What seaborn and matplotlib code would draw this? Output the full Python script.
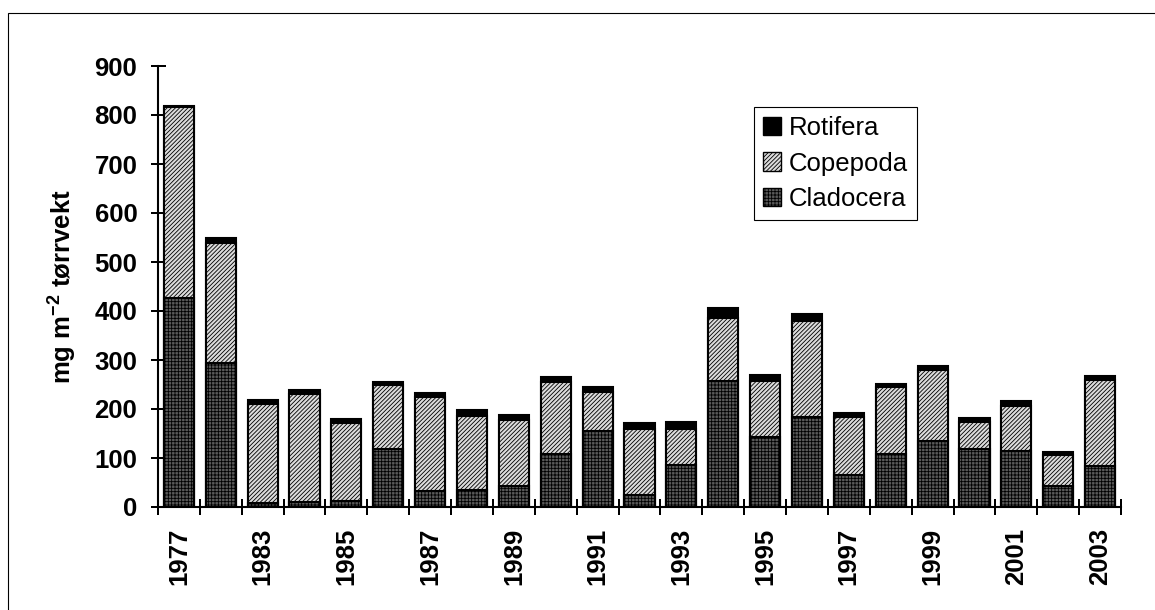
import numpy as np
import pandas as pd
import matplotlib
matplotlib.use("Agg")
import matplotlib.pyplot as plt
import seaborn as sns
from matplotlib.patches import Patch, Rectangle

years = ["1977", "1978", "1983", "1984", "1985", "1986", "1987", "1988", "1989",
         "1990", "1991", "1992", "1993", "1994", "1995", "1996", "1997", "1998",
         "1999", "2000", "2001", "2002", "2003"]
cladocera = [427, 293, 8, 10, 13, 118, 33, 35, 43, 108, 156, 24, 86, 257, 143,
             184, 66, 109, 135, 119, 115, 42, 84]
copepoda = [389, 246, 202, 220, 158, 131, 192, 151, 135, 147, 78, 135, 74, 129,
            115, 196, 117, 136, 144, 54, 92, 64, 175]
rotifera = [2, 11, 8, 8, 9, 7, 8, 11, 10, 10, 10, 13, 14, 21, 12, 13, 8, 7, 9,
            8, 9, 7, 9]
tick_labels = ["1977", "1983", "1985", "1987", "1989", "1991", "1993", "1995",
               "1997", "1999", "2001", "2003"]
y_ticks = [0, 100, 200, 300, 400, 500, 600, 700, 800, 900]

sns.set_theme(style="white", rc={"axes.edgecolor": "black", "text.color": "black",
                                 "xtick.color": "black", "ytick.color": "black",
                                 "axes.labelcolor": "black"})
plt.rcParams["font.family"] = ["Liberation Sans", "DejaVu Sans"]
plt.rcParams["hatch.linewidth"] = 0.6
plt.rcParams["mathtext.fontset"] = "custom"
plt.rcParams["mathtext.rm"] = "Liberation Sans:bold"
plt.rcParams["mathtext.bf"] = "Liberation Sans:bold"
plt.rcParams["mathtext.it"] = "Liberation Sans:bold"

df = pd.DataFrame({"year": years, "clad": cladocera, "cop": copepoda, "rot": rotifera})
df["cop_top"] = df["clad"] + df["cop"]
df["total"] = df["cop_top"] + df["rot"]

W, H = 1155, 610
fig = plt.figure(figsize=(W / 100, H / 100), dpi=100)
ax = fig.add_axes([158 / W, 1 - 507 / H, 963 / W, 441 / H])

COP_FC = "#dcdcdc"
CLAD_FC = "#5a5a5a"
COP_HATCH = "////////"
CLAD_HATCH = "+++++"
common = dict(x="year", order=years, saturation=1, edgecolor="black",
              linewidth=1.5, width=0.72, errorbar=None, ax=ax)
sns.barplot(data=df, y="total", color="black", **common)
sns.barplot(data=df, y="cop_top", color=COP_FC, hatch=COP_HATCH, **common)
sns.barplot(data=df, y="clad", color=CLAD_FC, hatch=CLAD_HATCH, **common)

ax.set_xlim(-0.5, len(years) - 0.5)
ax.set_ylim(0, 900)
ax.set_yticks(y_ticks)
for s in ["top", "right"]:
    ax.spines[s].set_visible(False)
for s in ["left", "bottom"]:
    ax.spines[s].set_linewidth(1.5)
    ax.spines[s].set_color("black")

ax.tick_params(axis="y", which="major", left=True, direction="inout", length=10.8,
               width=1.44, pad=9.5, labelsize=18.5)
for lbl in ax.get_yticklabels():
    lbl.set_fontweight("bold")

ax.set_xticks(range(0, len(years), 2))
ax.set_xticklabels(tick_labels, rotation=90, fontweight="bold", fontsize=18.5)
ax.set_xticks(np.arange(-0.5, len(years), 1), minor=True)
ax.tick_params(axis="x", which="major", bottom=True, length=0, pad=15)
ax.tick_params(axis="x", which="minor", bottom=True, direction="inout", length=11.5,
               width=1.44)

ax.set_xlabel("")
ax.set_ylabel(r"mg m$^{\mathbf{-2}}$ tørrvekt", fontsize=18.5, fontweight="bold")
ax.yaxis.set_label_coords(-0.082, 0.5)

handles = [
    Patch(facecolor="black", edgecolor="black", label="Rotifera"),
    Patch(facecolor=COP_FC, edgecolor="black", hatch=COP_HATCH, label="Copepoda"),
    Patch(facecolor=CLAD_FC, edgecolor="black", hatch=CLAD_HATCH, label="Cladocera"),
]
leg = ax.legend(handles=handles, loc="upper left",
                bbox_to_anchor=((754 - 158) / 963, (507 - 107) / 441),
                borderaxespad=0, frameon=True, fancybox=False, shadow=False,
                edgecolor="black", framealpha=1, fontsize=18.5,
                handlelength=0.72, handleheight=0.72, handletextpad=0.3,
                borderpad=0.35, labelspacing=0.45)
leg.get_frame().set_linewidth(0.8)

fig.add_artist(Rectangle((8 / W, -0.5), 2.0, 0.5 + (1 - 13 / H),
                         transform=fig.transFigure, fill=False,
                         edgecolor="black", linewidth=0.8))

fig.savefig("out.png", dpi=100)
